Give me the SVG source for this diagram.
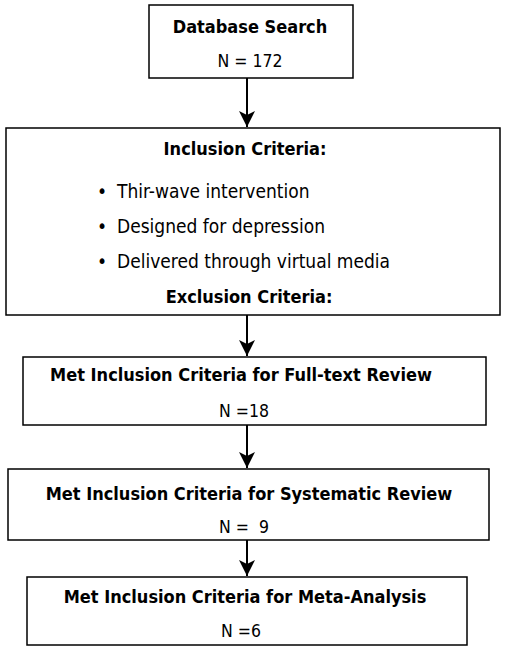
<svg xmlns="http://www.w3.org/2000/svg" width="507" height="653" viewBox="0 0 507 653">
<style>
.box{fill:#fff;stroke:#000;stroke-width:1.5}
.t{font-family:"DejaVu Sans Condensed","DejaVu Sans",sans-serif;font-size:18px;font-weight:bold;fill:#000;text-anchor:middle}
.n{font-family:"DejaVu Sans Condensed","DejaVu Sans",sans-serif;font-size:17.5px;fill:#000;text-anchor:middle;white-space:pre}
.b{font-family:"DejaVu Sans Condensed","DejaVu Sans",sans-serif;font-size:19px;fill:#000}
.c{stroke:#000;stroke-width:2;fill:none}
</style>
<defs>
<marker id="ah" markerUnits="userSpaceOnUse" markerWidth="16" markerHeight="18" refX="16" refY="8" orient="auto" viewBox="0 0 16 16">
<path d="M0,0 L16,8 L0,16 L4,8 Z" fill="#000"/>
</marker>
</defs>
<rect width="507" height="653" fill="#fff"/>
<g id="connectors">
<line class="c" x1="247" y1="78" x2="247" y2="127" marker-end="url(#ah)"/>
<line class="c" x1="247" y1="315" x2="247" y2="356" marker-end="url(#ah)"/>
<line class="c" x1="247" y1="425" x2="247" y2="468" marker-end="url(#ah)"/>
<line class="c" x1="247" y1="540" x2="247" y2="576" marker-end="url(#ah)"/>
</g>
<g id="database-search">
<rect class="box" x="149" y="5" width="204" height="73"/>
<text class="t" x="250" y="33">Database Search</text>
<text class="n" x="250" y="67">N = 172</text>
</g>
<g id="criteria">
<rect class="box" x="6" y="128" width="494" height="187"/>
<text class="t" x="245" y="155">Inclusion Criteria:</text>
<text class="b" x="97" y="198">•</text>
<text class="b" x="117" y="198">Thir-wave intervention</text>
<text class="b" x="97" y="233">•</text>
<text class="b" x="117" y="233">Designed for depression</text>
<text class="b" x="97" y="268">•</text>
<text class="b" x="117" y="268">Delivered through virtual media</text>
<text class="t" x="249" y="303">Exclusion Criteria:</text>
</g>
<g id="full-text">
<rect class="box" x="23" y="357" width="463" height="68"/>
<text class="t" x="241" y="381">Met Inclusion Criteria for Full-text Review</text>
<text class="n" x="244" y="417">N =18</text>
</g>
<g id="systematic">
<rect class="box" x="8" y="469" width="481" height="71"/>
<text class="t" x="249" y="500">Met Inclusion Criteria for Systematic Review</text>
<text class="n" x="244" y="533" xml:space="preserve">N =  9</text>
</g>
<g id="meta-analysis">
<rect class="box" x="27" y="577" width="440" height="68"/>
<text class="t" x="245" y="603">Met Inclusion Criteria for Meta-Analysis</text>
<text class="n" x="241" y="637">N =6</text>
</g>
</svg>
